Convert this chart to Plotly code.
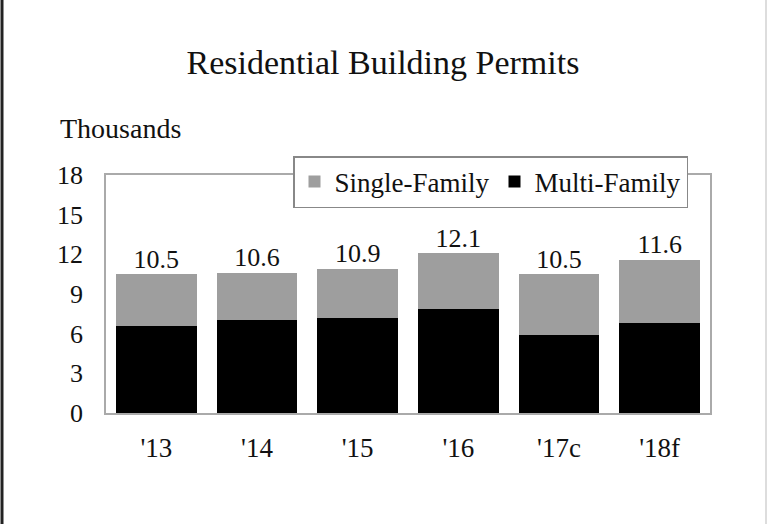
import plotly.graph_objects as go

categories = ["'13", "'14", "'15", "'16", "'17c", "'18f"]
multi_family = [6.6, 7.0, 7.2, 7.9, 5.9, 6.8]
single_family = [3.9, 3.6, 3.7, 4.2, 4.6, 4.8]
totals = [10.5, 10.6, 10.9, 12.1, 10.5, 11.6]
total_labels = ["10.5", "10.6", "10.9", "12.1", "10.5", "11.6"]
y_ticks = [0, 3, 6, 9, 12, 15, 18]

FONT = "Liberation Serif, Times New Roman, serif"
W, H = 768, 524
L, R, T, B = 106, 58, 175, 111
PW, PH = W - L - R, H - T - B


def px_x(p):
    return (p - L) / PW


def px_y(p):
    return (H - B - p) / PH


fig = go.Figure()
fig.add_trace(go.Bar(x=categories, y=multi_family, name="Multi-Family",
                     marker=dict(color="#000000", line=dict(width=0))))
fig.add_trace(go.Bar(x=categories, y=single_family, name="Single-Family",
                     marker=dict(color="#9e9e9e", line=dict(width=0))))
fig.add_trace(go.Scatter(x=categories, y=totals, mode="text", text=total_labels,
                         textposition="top center", showlegend=False,
                         textfont=dict(family=FONT, size=26, color="#111111"),
                         hoverinfo="skip"))

fig.update_layout(
    width=W, height=H,
    margin=dict(l=L, r=R, t=T, b=B),
    paper_bgcolor="white", plot_bgcolor="white",
    barmode="stack", bargap=0.2,
    font=dict(family=FONT, size=26, color="#111111"),
    title=dict(text="Residential Building Permits", x=383 / W, xanchor="center",
               xref="container", y=1 - 62 / H, yref="container", yanchor="middle",
               font=dict(family=FONT, size=34, color="#111111")),
    legend=dict(orientation="h", traceorder="reversed",
                x=px_x(688), xanchor="right", y=px_y(156), yanchor="top",
                bgcolor="white", bordercolor="#888888", borderwidth=1.5,
                font=dict(family=FONT, size=27, color="#111111")),
    showlegend=True,
)
fig.update_xaxes(showline=True, linecolor="#aaaaaa", linewidth=1.5, mirror=True,
                 showgrid=False, ticks="", ticklabelstandoff=10,
                 tickfont=dict(family=FONT, size=27, color="#111111"))
fig.update_yaxes(range=[0, 18], tickvals=y_ticks, showline=True, linecolor="#aaaaaa",
                 linewidth=1.5, mirror=True, showgrid=False, ticks="",
                 zeroline=False, ticklabelstandoff=16,
                 tickfont=dict(family=FONT, size=26, color="#111111"))

fig.add_annotation(text="Thousands", xref="paper", yref="paper",
                   x=px_x(58), xanchor="left", y=px_y(128), yanchor="middle",
                   showarrow=False, font=dict(family=FONT, size=28, color="#111111"))

fig.add_shape(type="line", xref="paper", yref="paper",
              x0=px_x(2), x1=px_x(2), y0=px_y(0), y1=px_y(H),
              line=dict(color="#222222", width=3))
fig.add_shape(type="line", xref="paper", yref="paper",
              x0=px_x(766), x1=px_x(766), y0=px_y(0), y1=px_y(H),
              line=dict(color="#dddddd", width=2))

fig.write_html("out.html",
               config={"displayModeBar": False},
               post_script="document.body.style.margin='0px';"
                           "document.body.style.overflow='hidden';")
